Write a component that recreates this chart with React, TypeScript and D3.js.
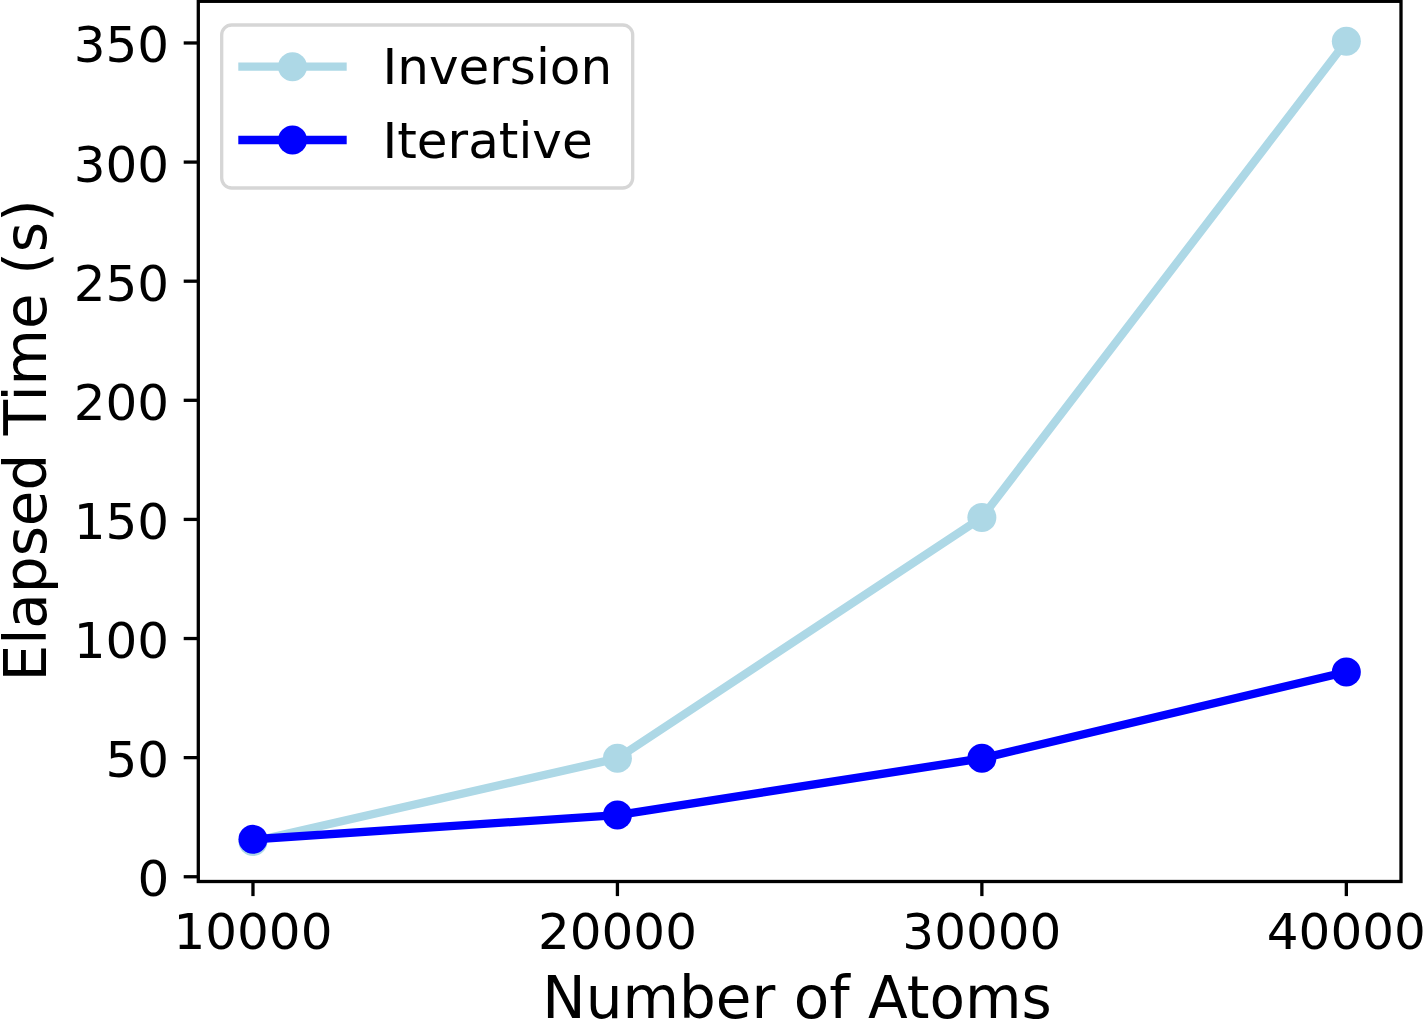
import React from 'react';
import * as d3 from 'd3';

const atoms = [10000, 20000, 30000, 40000];
const inversion = [14.8, 49.7, 150.8, 350.7];
const iterative = [15.7, 25.9, 49.7, 86];
const xTicks = [10000, 20000, 30000, 40000];
const yTicks = [0, 50, 100, 150, 200, 250, 300, 350];

const series = [
    { name: 'Inversion', values: inversion, color: '#add8e6' },
    { name: 'Iterative', values: iterative, color: '#0000ff' },
];

const width = 1423;
const height = 1021;
const left = 198.3;
const right = 1401;
const top = 1.3;
const bottom = 881.5;
const font = 'DejaVu Sans, sans-serif';

export default function App() {
    // matplotlib-style 5% margins
    const [x0, x1] = d3.extent(atoms) as [number, number];
    const xPad = (x1 - x0) * 0.05;
    const allY = [...inversion, ...iterative];
    const [y0, y1] = d3.extent(allY) as [number, number];
    const yPad = (y1 - y0) * 0.05;

    const x = d3.scaleLinear().domain([x0 - xPad, x1 + xPad]).range([left, right]);
    const y = d3.scaleLinear().domain([y0 - yPad, y1 + yPad]).range([bottom, top]);

    const line = d3.line<number>()
        .x((d, i) => x(atoms[i]))
        .y(d => y(d));

    const tickLen = 14.6;

    return (
        <svg width={width} height={height}
            style={{ position: 'absolute', left: 0, top: 0, background: '#fff' }}
            fontFamily={font}>
            <rect x={0} y={0} width={width} height={height} fill="#fff" />

            {series.map(s => (
                <g key={s.name}>
                    <path d={line(s.values) || ''} fill="none" stroke={s.color}
                        strokeWidth={8.3} strokeLinejoin="round" strokeLinecap="square" />
                    {s.values.map((v, i) => (
                        <circle key={i} cx={x(atoms[i])} cy={y(v)} r={14.5} fill={s.color} />
                    ))}
                </g>
            ))}

            {/* frame */}
            <rect x={left} y={top} width={right - left} height={bottom - top}
                fill="none" stroke="#000" strokeWidth={3.3} />

            {/* x ticks */}
            {xTicks.map(t => (
                <g key={t}>
                    <line x1={x(t)} x2={x(t)} y1={bottom} y2={bottom + tickLen} stroke="#000" strokeWidth={3.3} />
                    <text x={x(t)} y={949} textAnchor="middle" fontSize={50}>{t}</text>
                </g>
            ))}

            {/* y ticks */}
            {yTicks.map(t => (
                <g key={t}>
                    <line x1={left - tickLen} x2={left} y1={y(t)} y2={y(t)} stroke="#000" strokeWidth={3.3} />
                    <text x={left - tickLen - 14.5} y={y(t) + 19.5} textAnchor="end" fontSize={50}>{t}</text>
                </g>
            ))}

            <text x={797} y={1018} textAnchor="middle" fontSize={58}>Number of Atoms</text>
            <text transform={`translate(45.5,${(top + bottom) / 2 - 1}) rotate(-90)`} textAnchor="middle" fontSize={58}>
                Elapsed Time (s)
            </text>

            {/* legend */}
            <g>
                <rect x={221.7} y={25} width={411} height={163} rx={10} ry={10}
                    fill="#fff" fillOpacity={0.8} stroke="#d6d6d6" strokeWidth={3.3} />
                {series.map((s, i) => {
                    const ly = 66.7 + i * 73.3;
                    return (
                        <g key={s.name}>
                            <line x1={238.3} x2={346.7} y1={ly} y2={ly} stroke={s.color} strokeWidth={8.3} />
                            <circle cx={292.5} cy={ly} r={14.5} fill={s.color} />
                            <text x={382.5} y={ly + 17.5} fontSize={50}>{s.name}</text>
                        </g>
                    );
                })}
            </g>
        </svg>
    );
}
